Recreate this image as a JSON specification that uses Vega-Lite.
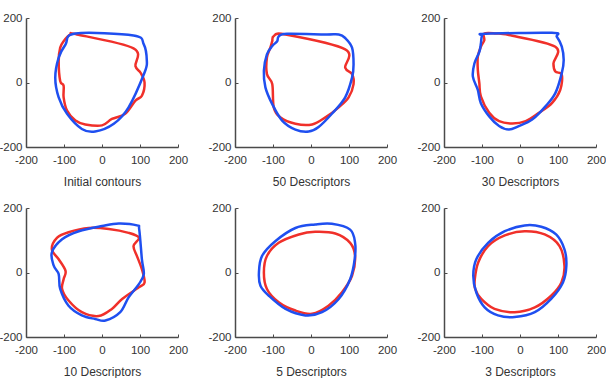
{
  "$schema": "https://vega.github.io/schema/vega-lite/v6.json",
  "background": "white",
  "padding": {"left": -2, "top": 12, "right": 0, "bottom": 0},
  "config": {
    "view": {"stroke": null},
    "axis": {
      "grid": false,
      "domainColor": "#4a4a4a",
      "domainWidth": 1.5,
      "tickColor": "#4a4a4a",
      "tickSize": -3,
      "labelExpr": "'' + datum.value",
      "labelFont": "Liberation Sans Narrow, Liberation Sans, Arial, sans-serif",
      "labelFontSize": 11.5,
      "labelColor": "#333333",
      "titleFont": "Liberation Sans Narrow, Liberation Sans, Arial, sans-serif",
      "titleFontSize": 12,
      "titleFontWeight": "normal",
      "titleColor": "#333333"
    },
    "axisX": {"labelPadding": 10, "titlePadding": 11, "labelFlush": false},
    "axisY": {"labelPadding": 7, "labelFlush": false}
  },
  "data": {"values": [
    {"p":1,"s":"red","i":0,"x":-101,"y":128},{"p":1,"s":"red","i":1,"x":-83,"y":149},{"p":1,"s":"red","i":2,"x":-66,"y":149},{"p":1,"s":"red","i":3,"x":83,"y":106},{"p":1,"s":"red","i":4,"x":88,"y":51},{"p":1,"s":"red","i":5,"x":101,"y":31},{"p":1,"s":"red","i":6,"x":112,"y":0},{"p":1,"s":"red","i":7,"x":105,"y":-41},{"p":1,"s":"red","i":8,"x":88,"y":-56},{"p":1,"s":"red","i":9,"x":61,"y":-97},{"p":1,"s":"red","i":10,"x":26,"y":-113},{"p":1,"s":"red","i":11,"x":0,"y":-133},{"p":1,"s":"red","i":12,"x":-44,"y":-130},{"p":1,"s":"red","i":13,"x":-70,"y":-118},{"p":1,"s":"red","i":14,"x":-92,"y":-87},{"p":1,"s":"red","i":15,"x":-101,"y":-46},{"p":1,"s":"red","i":16,"x":-101,"y":-10},{"p":1,"s":"red","i":17,"x":-110,"y":5},{"p":1,"s":"red","i":18,"x":-114,"y":67},{"p":1,"s":"red","i":19,"x":-110,"y":108},
    {"p":1,"s":"blue","i":0,"x":-70,"y":152},{"p":1,"s":"blue","i":1,"x":83,"y":146},{"p":1,"s":"blue","i":2,"x":110,"y":118},{"p":1,"s":"blue","i":3,"x":118,"y":67},{"p":1,"s":"blue","i":4,"x":112,"y":31},{"p":1,"s":"blue","i":5,"x":70,"y":-77},{"p":1,"s":"blue","i":6,"x":31,"y":-128},{"p":1,"s":"blue","i":7,"x":-18,"y":-152},{"p":1,"s":"blue","i":8,"x":-53,"y":-144},{"p":1,"s":"blue","i":9,"x":-92,"y":-97},{"p":1,"s":"blue","i":10,"x":-114,"y":-46},{"p":1,"s":"blue","i":11,"x":-123,"y":15},{"p":1,"s":"blue","i":12,"x":-114,"y":77},{"p":1,"s":"blue","i":13,"x":-96,"y":118},
    {"p":2,"s":"red","i":0,"x":-102,"y":128},{"p":2,"s":"red","i":1,"x":-98,"y":144},{"p":2,"s":"red","i":2,"x":-67,"y":149},{"p":2,"s":"red","i":3,"x":90,"y":103},{"p":2,"s":"red","i":4,"x":90,"y":46},{"p":2,"s":"red","i":5,"x":108,"y":26},{"p":2,"s":"red","i":6,"x":112,"y":-5},{"p":2,"s":"red","i":7,"x":99,"y":-46},{"p":2,"s":"red","i":8,"x":73,"y":-77},{"p":2,"s":"red","i":9,"x":38,"y":-108},{"p":2,"s":"red","i":10,"x":3,"y":-130},{"p":2,"s":"red","i":11,"x":-41,"y":-128},{"p":2,"s":"red","i":12,"x":-81,"y":-108},{"p":2,"s":"red","i":13,"x":-98,"y":-77},{"p":2,"s":"red","i":14,"x":-102,"y":-5},{"p":2,"s":"red","i":15,"x":-116,"y":26},{"p":2,"s":"red","i":16,"x":-116,"y":77},{"p":2,"s":"red","i":17,"x":-107,"y":108},
    {"p":2,"s":"blue","i":0,"x":-85,"y":143},{"p":2,"s":"blue","i":1,"x":-63,"y":151},{"p":2,"s":"blue","i":2,"x":38,"y":149},{"p":2,"s":"blue","i":3,"x":73,"y":149},{"p":2,"s":"blue","i":4,"x":90,"y":138},{"p":2,"s":"blue","i":5,"x":108,"y":108},{"p":2,"s":"blue","i":6,"x":112,"y":56},{"p":2,"s":"blue","i":7,"x":108,"y":15},{"p":2,"s":"blue","i":8,"x":90,"y":-46},{"p":2,"s":"blue","i":9,"x":55,"y":-97},{"p":2,"s":"blue","i":10,"x":20,"y":-138},{"p":2,"s":"blue","i":11,"x":-6,"y":-152},{"p":2,"s":"blue","i":12,"x":-41,"y":-146},{"p":2,"s":"blue","i":13,"x":-76,"y":-118},{"p":2,"s":"blue","i":14,"x":-102,"y":-67},{"p":2,"s":"blue","i":15,"x":-120,"y":-15},{"p":2,"s":"blue","i":16,"x":-124,"y":36},{"p":2,"s":"blue","i":17,"x":-116,"y":87},{"p":2,"s":"blue","i":18,"x":-102,"y":113},{"p":2,"s":"blue","i":19,"x":-89,"y":128},
    {"p":3,"s":"red","i":0,"x":-94,"y":152},{"p":3,"s":"red","i":1,"x":-63,"y":152},{"p":3,"s":"red","i":2,"x":-29,"y":147},{"p":3,"s":"red","i":3,"x":93,"y":111},{"p":3,"s":"red","i":4,"x":88,"y":59},{"p":3,"s":"red","i":5,"x":93,"y":34},{"p":3,"s":"red","i":6,"x":110,"y":24},{"p":3,"s":"red","i":7,"x":106,"y":-23},{"p":3,"s":"red","i":8,"x":84,"y":-64},{"p":3,"s":"red","i":9,"x":50,"y":-94},{"p":3,"s":"red","i":10,"x":15,"y":-120},{"p":3,"s":"red","i":11,"x":-20,"y":-127},{"p":3,"s":"red","i":12,"x":-55,"y":-120},{"p":3,"s":"red","i":13,"x":-81,"y":-94},{"p":3,"s":"red","i":14,"x":-103,"y":-43},{"p":3,"s":"red","i":15,"x":-107,"y":-2},{"p":3,"s":"red","i":16,"x":-111,"y":39},{"p":3,"s":"red","i":17,"x":-111,"y":80},{"p":3,"s":"red","i":18,"x":-103,"y":111},{"p":3,"s":"red","i":19,"x":-94,"y":131},
    {"p":3,"s":"blue","i":0,"x":-100,"y":145},{"p":3,"s":"blue","i":1,"x":-90,"y":151},{"p":3,"s":"blue","i":2,"x":84,"y":154},{"p":3,"s":"blue","i":3,"x":97,"y":142},{"p":3,"s":"blue","i":4,"x":110,"y":111},{"p":3,"s":"blue","i":5,"x":115,"y":70},{"p":3,"s":"blue","i":6,"x":110,"y":29},{"p":3,"s":"blue","i":7,"x":93,"y":-33},{"p":3,"s":"blue","i":8,"x":67,"y":-74},{"p":3,"s":"blue","i":9,"x":32,"y":-115},{"p":3,"s":"blue","i":10,"x":-3,"y":-135},{"p":3,"s":"blue","i":11,"x":-29,"y":-146},{"p":3,"s":"blue","i":12,"x":-55,"y":-135},{"p":3,"s":"blue","i":13,"x":-81,"y":-105},{"p":3,"s":"blue","i":14,"x":-103,"y":-64},{"p":3,"s":"blue","i":15,"x":-111,"y":-23},{"p":3,"s":"blue","i":16,"x":-124,"y":18},{"p":3,"s":"blue","i":17,"x":-120,"y":59},{"p":3,"s":"blue","i":18,"x":-107,"y":95},{"p":3,"s":"blue","i":19,"x":-103,"y":120},
    {"p":4,"s":"red","i":0,"x":-132,"y":72},{"p":4,"s":"red","i":1,"x":-118,"y":108},{"p":4,"s":"red","i":2,"x":-88,"y":125},{"p":4,"s":"red","i":3,"x":-35,"y":138},{"p":4,"s":"red","i":4,"x":18,"y":135},{"p":4,"s":"red","i":5,"x":70,"y":123},{"p":4,"s":"red","i":6,"x":97,"y":108},{"p":4,"s":"red","i":7,"x":83,"y":82},{"p":4,"s":"red","i":8,"x":92,"y":51},{"p":4,"s":"red","i":9,"x":105,"y":10},{"p":4,"s":"red","i":10,"x":112,"y":-31},{"p":4,"s":"red","i":11,"x":97,"y":-46},{"p":4,"s":"red","i":12,"x":53,"y":-82},{"p":4,"s":"red","i":13,"x":26,"y":-113},{"p":4,"s":"red","i":14,"x":-9,"y":-135},{"p":4,"s":"red","i":15,"x":-53,"y":-123},{"p":4,"s":"red","i":16,"x":-88,"y":-87},{"p":4,"s":"red","i":17,"x":-105,"y":-51},{"p":4,"s":"red","i":18,"x":-101,"y":-21},{"p":4,"s":"red","i":19,"x":-96,"y":5},{"p":4,"s":"red","i":20,"x":-114,"y":41},
    {"p":4,"s":"blue","i":0,"x":-132,"y":62},{"p":4,"s":"blue","i":1,"x":-105,"y":103},{"p":4,"s":"blue","i":2,"x":-61,"y":128},{"p":4,"s":"blue","i":3,"x":0,"y":144},{"p":4,"s":"blue","i":4,"x":44,"y":152},{"p":4,"s":"blue","i":5,"x":92,"y":146},{"p":4,"s":"blue","i":6,"x":98,"y":133},{"p":4,"s":"blue","i":7,"x":105,"y":41},{"p":4,"s":"blue","i":8,"x":110,"y":-5},{"p":4,"s":"blue","i":9,"x":97,"y":-36},{"p":4,"s":"blue","i":10,"x":70,"y":-77},{"p":4,"s":"blue","i":11,"x":48,"y":-123},{"p":4,"s":"blue","i":12,"x":9,"y":-149},{"p":4,"s":"blue","i":13,"x":-18,"y":-144},{"p":4,"s":"blue","i":14,"x":-53,"y":-133},{"p":4,"s":"blue","i":15,"x":-88,"y":-103},{"p":4,"s":"blue","i":16,"x":-110,"y":-51},{"p":4,"s":"blue","i":17,"x":-114,"y":-5},{"p":4,"s":"blue","i":18,"x":-127,"y":21},
    {"p":5,"s":"red","i":0,"x":-124,"y":0},{"p":5,"s":"red","i":1,"x":-116,"y":51},{"p":5,"s":"red","i":2,"x":-85,"y":92},{"p":5,"s":"red","i":3,"x":-32,"y":118},{"p":5,"s":"red","i":4,"x":11,"y":126},{"p":5,"s":"red","i":5,"x":64,"y":121},{"p":5,"s":"red","i":6,"x":103,"y":92},{"p":5,"s":"red","i":7,"x":116,"y":51},{"p":5,"s":"red","i":8,"x":108,"y":-10},{"p":5,"s":"red","i":9,"x":81,"y":-62},{"p":5,"s":"red","i":10,"x":46,"y":-103},{"p":5,"s":"red","i":11,"x":3,"y":-128},{"p":5,"s":"red","i":12,"x":-41,"y":-118},{"p":5,"s":"red","i":13,"x":-85,"y":-92},{"p":5,"s":"red","i":14,"x":-116,"y":-51},
    {"p":5,"s":"blue","i":0,"x":-137,"y":0},{"p":5,"s":"blue","i":1,"x":-129,"y":51},{"p":5,"s":"blue","i":2,"x":-94,"y":97},{"p":5,"s":"blue","i":3,"x":-41,"y":138},{"p":5,"s":"blue","i":4,"x":11,"y":149},{"p":5,"s":"blue","i":5,"x":55,"y":151},{"p":5,"s":"blue","i":6,"x":103,"y":133},{"p":5,"s":"blue","i":7,"x":116,"y":92},{"p":5,"s":"blue","i":8,"x":115,"y":41},{"p":5,"s":"blue","i":9,"x":103,"y":-21},{"p":5,"s":"blue","i":10,"x":73,"y":-82},{"p":5,"s":"blue","i":11,"x":29,"y":-123},{"p":5,"s":"blue","i":12,"x":-15,"y":-133},{"p":5,"s":"blue","i":13,"x":-67,"y":-113},{"p":5,"s":"blue","i":14,"x":-111,"y":-72},{"p":5,"s":"blue","i":15,"x":-133,"y":-41},
    {"p":6,"s":"red","i":0,"x":-119,"y":-21},{"p":6,"s":"red","i":1,"x":-110,"y":31},{"p":6,"s":"red","i":2,"x":-84,"y":82},{"p":6,"s":"red","i":3,"x":-40,"y":115},{"p":6,"s":"red","i":4,"x":12,"y":128},{"p":6,"s":"red","i":5,"x":65,"y":118},{"p":6,"s":"red","i":6,"x":104,"y":82},{"p":6,"s":"red","i":7,"x":117,"y":21},{"p":6,"s":"red","i":8,"x":109,"y":-31},{"p":6,"s":"red","i":9,"x":82,"y":-72},{"p":6,"s":"red","i":10,"x":39,"y":-108},{"p":6,"s":"red","i":11,"x":-14,"y":-123},{"p":6,"s":"red","i":12,"x":-67,"y":-113},{"p":6,"s":"red","i":13,"x":-102,"y":-82},{"p":6,"s":"red","i":14,"x":-118,"y":-51},
    {"p":6,"s":"blue","i":0,"x":-123,"y":-10},{"p":6,"s":"blue","i":1,"x":-115,"y":41},{"p":6,"s":"blue","i":2,"x":-84,"y":92},{"p":6,"s":"blue","i":3,"x":-40,"y":128},{"p":6,"s":"blue","i":4,"x":12,"y":146},{"p":6,"s":"blue","i":5,"x":56,"y":142},{"p":6,"s":"blue","i":6,"x":95,"y":118},{"p":6,"s":"blue","i":7,"x":117,"y":72},{"p":6,"s":"blue","i":8,"x":122,"y":21},{"p":6,"s":"blue","i":9,"x":113,"y":-31},{"p":6,"s":"blue","i":10,"x":82,"y":-82},{"p":6,"s":"blue","i":11,"x":39,"y":-123},{"p":6,"s":"blue","i":12,"x":-14,"y":-138},{"p":6,"s":"blue","i":13,"x":-58,"y":-133},{"p":6,"s":"blue","i":14,"x":-93,"y":-108},{"p":6,"s":"blue","i":15,"x":-115,"y":-62}
  ]},
  "concat": [
    {"width":152,"height":129,"transform":[{"filter":"datum.p==1"}],"mark":{"type":"line","interpolate":"cardinal-closed","strokeWidth":2.5},"encoding":{"x":{"field":"x","type":"quantitative","scale":{"domain":[-200,200],"nice":false},"axis":{"values":[-200,-100,0,100,200],"title":"Initial contours"}},"y":{"field":"y","type":"quantitative","scale":{"domain":[-200,200],"nice":false},"axis":{"values":[-200,0,200],"title":null}},"color":{"field":"s","type":"nominal","scale":{"domain":["red","blue"],"range":["#f0302a","#1f4ff0"]},"legend":null},"order":{"field":"i","type":"quantitative"}}},
    {"width":152,"height":129,"transform":[{"filter":"datum.p==2"}],"mark":{"type":"line","interpolate":"cardinal-closed","strokeWidth":2.5},"encoding":{"x":{"field":"x","type":"quantitative","scale":{"domain":[-200,200],"nice":false},"axis":{"values":[-200,-100,0,100,200],"title":"50 Descriptors"}},"y":{"field":"y","type":"quantitative","scale":{"domain":[-200,200],"nice":false},"axis":{"values":[-200,0,200],"title":null}},"color":{"field":"s","type":"nominal","scale":{"domain":["red","blue"],"range":["#f0302a","#1f4ff0"]},"legend":null},"order":{"field":"i","type":"quantitative"}}},
    {"width":152,"height":129,"transform":[{"filter":"datum.p==3"}],"mark":{"type":"line","interpolate":"cardinal-closed","strokeWidth":2.5},"encoding":{"x":{"field":"x","type":"quantitative","scale":{"domain":[-200,200],"nice":false},"axis":{"values":[-200,-100,0,100,200],"title":"30 Descriptors"}},"y":{"field":"y","type":"quantitative","scale":{"domain":[-200,200],"nice":false},"axis":{"values":[-200,0,200],"title":null}},"color":{"field":"s","type":"nominal","scale":{"domain":["red","blue"],"range":["#f0302a","#1f4ff0"]},"legend":null},"order":{"field":"i","type":"quantitative"}}},
    {"width":152,"height":129,"transform":[{"filter":"datum.p==4"}],"mark":{"type":"line","interpolate":"cardinal-closed","strokeWidth":2.5},"encoding":{"x":{"field":"x","type":"quantitative","scale":{"domain":[-200,200],"nice":false},"axis":{"values":[-200,-100,0,100,200],"title":"10 Descriptors"}},"y":{"field":"y","type":"quantitative","scale":{"domain":[-200,200],"nice":false},"axis":{"values":[-200,0,200],"title":null}},"color":{"field":"s","type":"nominal","scale":{"domain":["red","blue"],"range":["#f0302a","#1f4ff0"]},"legend":null},"order":{"field":"i","type":"quantitative"}}},
    {"width":152,"height":129,"transform":[{"filter":"datum.p==5"}],"mark":{"type":"line","interpolate":"cardinal-closed","strokeWidth":2.5},"encoding":{"x":{"field":"x","type":"quantitative","scale":{"domain":[-200,200],"nice":false},"axis":{"values":[-200,-100,0,100,200],"title":"5 Descriptors"}},"y":{"field":"y","type":"quantitative","scale":{"domain":[-200,200],"nice":false},"axis":{"values":[-200,0,200],"title":null}},"color":{"field":"s","type":"nominal","scale":{"domain":["red","blue"],"range":["#f0302a","#1f4ff0"]},"legend":null},"order":{"field":"i","type":"quantitative"}}},
    {"width":152,"height":129,"transform":[{"filter":"datum.p==6"}],"mark":{"type":"line","interpolate":"cardinal-closed","strokeWidth":2.5},"encoding":{"x":{"field":"x","type":"quantitative","scale":{"domain":[-200,200],"nice":false},"axis":{"values":[-200,-100,0,100,200],"title":"3 Descriptors"}},"y":{"field":"y","type":"quantitative","scale":{"domain":[-200,200],"nice":false},"axis":{"values":[-200,0,200],"title":null}},"color":{"field":"s","type":"nominal","scale":{"domain":["red","blue"],"range":["#f0302a","#1f4ff0"]},"legend":null},"order":{"field":"i","type":"quantitative"}}}
  ],
  "columns": 3,
  "spacing": {"row": 61, "column": 57},
  "bounds": "flush"
}
